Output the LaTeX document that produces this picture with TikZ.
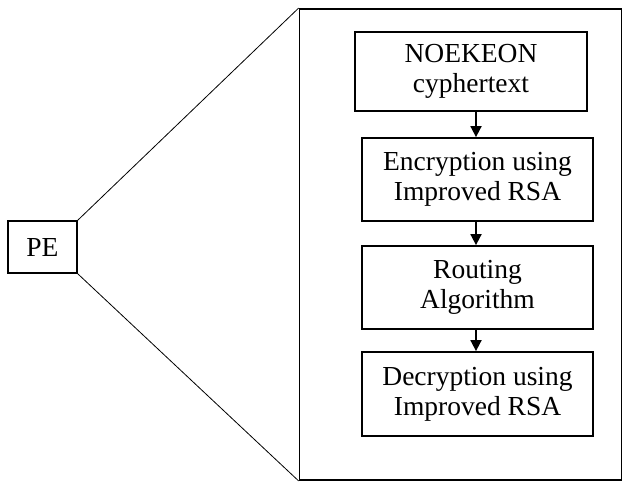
\documentclass[tikz,border=0pt]{standalone}
\usepackage{fontspec}
\setmainfont{Liberation Serif}
\usetikzlibrary{arrows.meta}
\begin{document}
\begin{tikzpicture}[x=1pt,y=-1pt,
  box/.style={draw=black,line width=1.8pt,rectangle,inner sep=0pt,align=center,
    font=\fontsize{27.5}{30}\selectfont},
  stage/.style={box,minimum width=231pt,minimum height=83pt},
  thin/.style={line width=0.8pt},
  flow/.style={line width=1.8pt,-{Triangle[length=11pt,width=11pt]}}]
  \useasboundingbox (0,0) rectangle (623,482);
  % processing element and its zoomed-in view
  \node[box,minimum width=69pt,minimum height=52pt] (pe) at (42.5,247) {PE};
  \node[draw=black,line width=1.8pt,minimum width=322pt,minimum height=471pt,inner sep=0pt] (view) at (460.5,244.5) {};
  \draw[thin] (pe.north east) -- (view.north west);
  \draw[thin] (pe.south east) -- (view.south west);
  % pipeline stages
  \node[stage,minimum width=232pt,minimum height=79pt] (s1) at (471,71.5) {NOEKEON\\cyphertext};
  \node[stage] (s2) at (477.5,179.5) {Encryption using\\Improved RSA};
  \node[stage] (s3) at (477.5,287.5) {Routing\\Algorithm};
  \node[stage,minimum height=84pt] (s4) at (477.5,394) {Decryption using\\Improved RSA};
  \coordinate (ax) at (476,0);
  \draw[flow] (s1.south -| ax) -- (s2.north -| ax);
  \draw[flow] (s2.south -| ax) -- (s3.north -| ax);
  \draw[flow] (s3.south -| ax) -- (s4.north -| ax);
\end{tikzpicture}
\end{document}
